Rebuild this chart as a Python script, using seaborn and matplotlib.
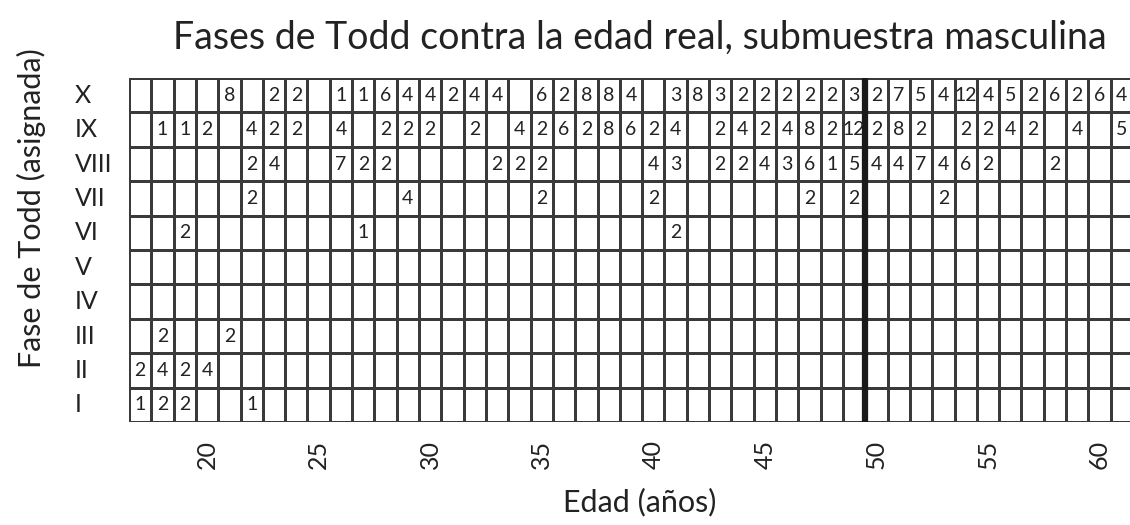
import numpy as np
import pandas as pd
import matplotlib
matplotlib.use("Agg")
import matplotlib.pyplot as plt
import seaborn as sns
from matplotlib.colors import ListedColormap

# edades (una columna por año) y fases de Todd asignadas
edades = list(range(17, 62))
fases = ["X", "IX", "VIII", "VII", "VI", "V", "IV", "III", "II", "I"]

# recuentos por fase, 0 = casilla vacia
fase_X = [0, 0, 0, 0, 8, 0, 2, 2, 0, 1, 1, 6, 4, 4, 2, 4, 4, 0, 6, 2,
          8, 8, 4, 0, 3, 8, 3, 2, 2, 2, 2, 2, 3, 2, 7, 5, 4, 12, 4, 5,
          2, 6, 2, 6, 4]
fase_IX = [0, 1, 1, 2, 0, 4, 2, 2, 0, 4, 0, 2, 2, 2, 0, 2, 0, 4, 2, 6,
           2, 8, 6, 2, 4, 0, 2, 4, 2, 4, 8, 2, 12, 2, 8, 2, 0, 2, 2, 4,
           2, 0, 4, 0, 5]
fase_VIII = [0, 0, 0, 0, 0, 2, 4, 0, 0, 7, 2, 2, 0, 0, 0, 0, 2, 2, 2, 0,
             0, 0, 0, 4, 3, 0, 2, 2, 4, 3, 6, 1, 5, 4, 4, 7, 4, 6, 2, 0,
             0, 2, 0, 0, 0]
fase_VII = [0, 0, 0, 0, 0, 2, 0, 0, 0, 0, 0, 0, 4, 0, 0, 0, 0, 0, 2, 0,
            0, 0, 0, 2, 0, 0, 0, 0, 0, 0, 2, 0, 2, 0, 0, 0, 2, 0, 0, 0,
            0, 0, 0, 0, 0]
fase_VI = [0, 0, 2, 0, 0, 0, 0, 0, 0, 0, 1, 0, 0, 0, 0, 0, 0, 0, 0, 0,
           0, 0, 0, 0, 2, 0, 0, 0, 0, 0, 0, 0, 0, 0, 0, 0, 0, 0, 0, 0,
           0, 0, 0, 0, 0]
fase_V = [0] * 45
fase_IV = [0] * 45
fase_III = [0, 2, 0, 0, 2, 0, 0, 0, 0, 0, 0, 0, 0, 0, 0, 0, 0, 0, 0, 0,
            0, 0, 0, 0, 0, 0, 0, 0, 0, 0, 0, 0, 0, 0, 0, 0, 0, 0, 0, 0,
            0, 0, 0, 0, 0]
fase_II = [2, 4, 2, 4, 0, 0, 0, 0, 0, 0, 0, 0, 0, 0, 0, 0, 0, 0, 0, 0,
           0, 0, 0, 0, 0, 0, 0, 0, 0, 0, 0, 0, 0, 0, 0, 0, 0, 0, 0, 0,
           0, 0, 0, 0, 0]
fase_I = [1, 2, 2, 0, 0, 1, 0, 0, 0, 0, 0, 0, 0, 0, 0, 0, 0, 0, 0, 0,
          0, 0, 0, 0, 0, 0, 0, 0, 0, 0, 0, 0, 0, 0, 0, 0, 0, 0, 0, 0,
          0, 0, 0, 0, 0]

xtick_edades = [20, 25, 30, 35, 40, 45, 50, 55, 60]
corte_edad = 50

data = pd.DataFrame([fase_X, fase_IX, fase_VIII, fase_VII, fase_VI,
                     fase_V, fase_IV, fase_III, fase_II, fase_I],
                    index=fases, columns=edades)
labels = data.astype(str).where(data > 0, "")

font = "Lato"
plt.rcParams["font.family"] = [font, "DejaVu Sans"]

fig = plt.figure(figsize=(11.3, 5.25), dpi=100)
ax = fig.add_axes([129 / 1130, 103 / 525, 1004 / 1130, 344 / 525])

sns.heatmap(data, ax=ax, cmap=ListedColormap(["white"]), cbar=False,
            annot=labels.values, fmt="", linewidths=0.8, linecolor="#3a3a3a",
            annot_kws={"fontsize": 14, "color": "#222222"})

# linea gruesa entre 49 y 50 años
ax.axvline(edades.index(corte_edad), color="#1a1a1a", lw=4.5)

ax.set_xticks([edades.index(e) + 0.5 for e in xtick_edades])
ax.set_xticklabels([str(e) for e in xtick_edades], rotation=90,
                   fontsize=18, color="#222222")
ax.set_yticks(np.arange(len(fases)) + 0.5)
ax.set_yticklabels(fases, rotation=0, fontsize=18, color="#222222")
ax.tick_params(axis="y", length=0, pad=39)
ax.tick_params(axis="x", length=0, pad=13)
for lab in ax.get_yticklabels():
    lab.set_ha("left")
ax.set_xlabel("")
ax.set_ylabel("")

fig.text(640 / 1130, 1 - 38 / 525,
         "Fases de Todd contra la edad real, submuestra masculina",
         ha="center", va="center", fontsize=27, color="#222222")
fig.text(31 / 1130, 1 - 208 / 525, "Fase de Todd (asignada)",
         rotation=90, ha="center", va="center", fontsize=22, color="#222222")
fig.text(640 / 1130, 1 - 502 / 525, "Edad (años)",
         ha="center", va="center", fontsize=22, color="#222222")

plt.savefig("out.png", dpi=100)
plt.close()
